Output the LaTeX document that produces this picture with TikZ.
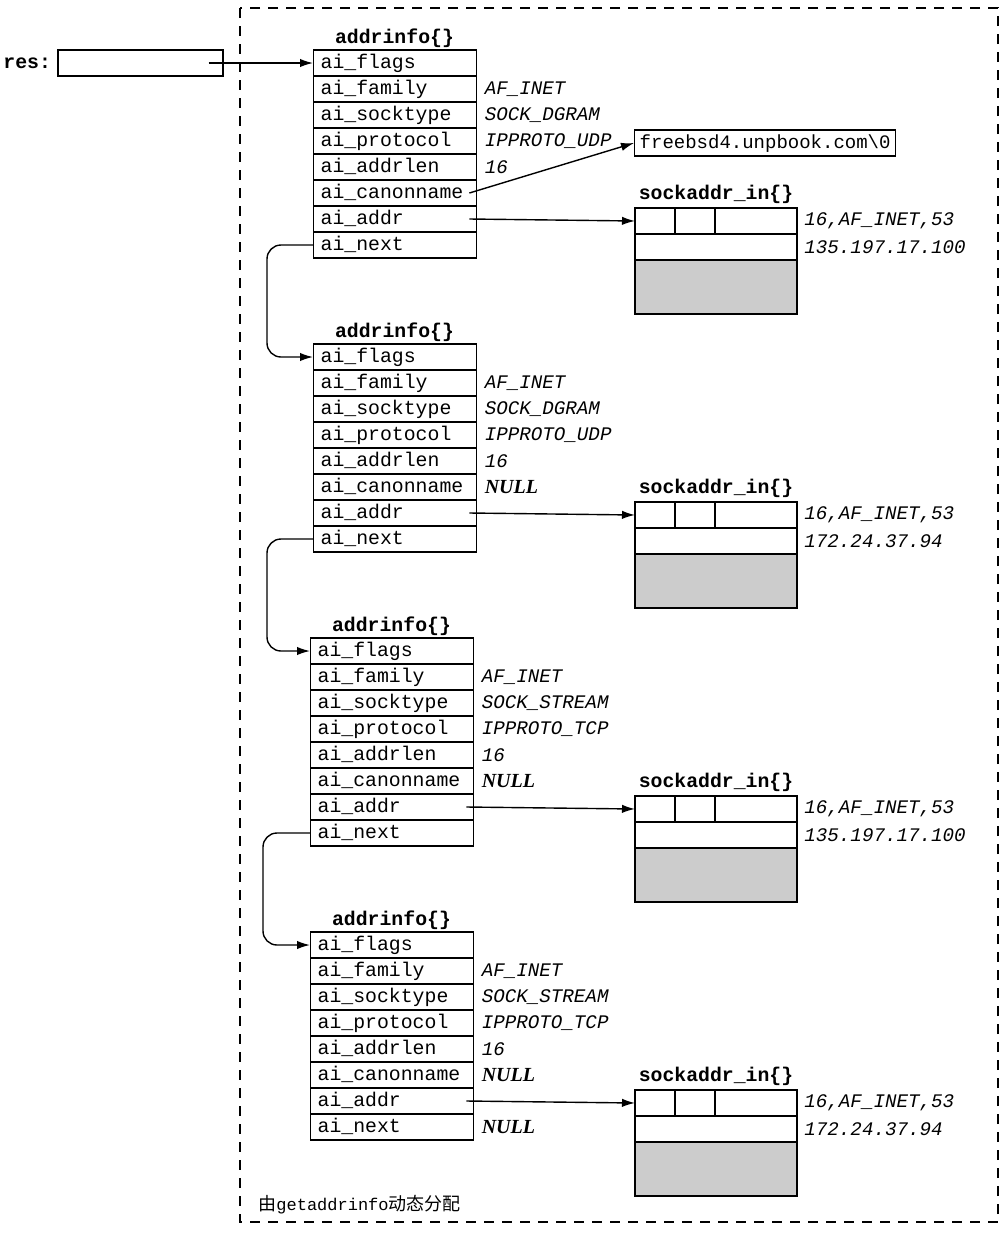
\documentclass[tikz,border=0pt]{standalone}
\usepackage{fontspec}
\setmainfont{Liberation Serif}
\setmonofont{Liberation Mono}
\newfontfamily\cjkfont{Noto Sans CJK SC}
\usetikzlibrary{arrows.meta,calc}
\begin{document}
\begin{tikzpicture}[x=0.5pt,y=-0.5pt,
  every node/.style={font=\ttfamily\fontsize{9.9}{11}\selectfont},
  field/.style={draw, line width=0.7pt, minimum width=81.5pt, minimum height=13pt,
    inner xsep=3.5pt, inner ysep=0pt, text width=74.5pt, align=left,
    text height=7pt, text depth=2pt},
  val/.style={anchor=west, inner xsep=3.5pt, font=\ttfamily\itshape\fontsize{9.6}{11}\selectfont},
  nullval/.style={anchor=west, inner xsep=3.5pt, font=\rmfamily\bfseries\itshape\fontsize{10}{11}\selectfont},
  title/.style={font=\ttfamily\bfseries\fontsize{9.9}{11}\selectfont},
  sacell/.style={draw, line width=0.7pt, outer sep=0pt, minimum width=81pt, minimum height=13pt, inner sep=0pt},
  sagray/.style={draw, line width=0.7pt, outer sep=0pt, fill=black!20, minimum width=81pt, minimum height=27pt, inner sep=0pt},
  ptr/.style={line width=0.7pt, -{Latex[length=6.5pt,width=4.2pt]}},
  alloc/.style={dashed, dash pattern=on 5pt off 4pt, line width=0.55pt},
]
\useasboundingbox (0,0) rectangle (1002,1233);
\fill[white] (0,0) rectangle (1002,1233);

% dynamically allocated region
\draw[alloc] (240,8) rectangle (998,1222);
\node[anchor=west, inner sep=0pt] (cap) at (258,1205)
  {{\cjkfont\fontsize{9}{10}\selectfont 由}{\ttfamily\fontsize{8.5}{10}\selectfont getaddrinfo}{\cjkfont\fontsize{9}{10}\selectfont 动态分配}};

% res pointer
\node[draw, line width=0.7pt, minimum width=82.5pt, minimum height=13pt, inner sep=0pt] (res) at (140.5,63) {};
\node[anchor=east, inner sep=3pt, font=\ttfamily\bfseries\fontsize{9.9}{11}\selectfont] (reslbl) at (res.west) {res:};

% addrinfo structures
\foreach \k/\xl in {1/313,2/313,3/310,4/310} {
  \pgfmathsetmacro{\yb}{63+294*(\k-1)}
  \node[title] (t\k) at (\xl+81.5,\yb-25) {addrinfo\{\}};
  \foreach \f [count=\i] in {ai\_flags,ai\_family,ai\_socktype,ai\_protocol,ai\_addrlen,ai\_canonname,ai\_addr,ai\_next} {
    \node[field, anchor=west] (s\k-\i) at (\xl,\yb+26*\i-26) {\f};
  }
  % sockaddr_in
  \node[sacell, anchor=north west] (a\k-t) at (635,\yb+145) {};
  \node[sacell, anchor=north] (a\k-m) at (a\k-t.south) {};
  \node[sagray, anchor=north] (a\k-g) at (a\k-m.south) {};
  \draw[line width=0.7pt] ([xshift=20pt]a\k-t.north west) -- ([xshift=20pt]a\k-t.south west);
  \draw[line width=0.7pt] ([xshift=40pt]a\k-t.north west) -- ([xshift=40pt]a\k-t.south west);
  \node[title, anchor=south, inner sep=2pt] (at\k) at (a\k-t.north) {sockaddr\_in\{\}};
  \node[val] (af\k) at (a\k-t.east) {16,AF\_INET,53};
  \draw[ptr] ([xshift=-4pt]s\k-7.east) -- (a\k-t.west);
}

% values
\node[val] (v1-2) at (s1-2.east) {AF\_INET};
\node[val] (v1-3) at (s1-3.east) {SOCK\_DGRAM};
\node[val] (v1-4) at (s1-4.east) {IPPROTO\_UDP};
\node[val] (v1-5) at (s1-5.east) {16};

\node[val] (v2-2) at (s2-2.east) {AF\_INET};
\node[val] (v2-3) at (s2-3.east) {SOCK\_DGRAM};
\node[val] (v2-4) at (s2-4.east) {IPPROTO\_UDP};
\node[val] (v2-5) at (s2-5.east) {16};
\node[nullval] (v2-6) at (s2-6.east) {NULL};

\node[val] (v3-2) at (s3-2.east) {AF\_INET};
\node[val] (v3-3) at (s3-3.east) {SOCK\_STREAM};
\node[val] (v3-4) at (s3-4.east) {IPPROTO\_TCP};
\node[val] (v3-5) at (s3-5.east) {16};
\node[nullval] (v3-6) at (s3-6.east) {NULL};

\node[val] (v4-2) at (s4-2.east) {AF\_INET};
\node[val] (v4-3) at (s4-3.east) {SOCK\_STREAM};
\node[val] (v4-4) at (s4-4.east) {IPPROTO\_TCP};
\node[val] (v4-5) at (s4-5.east) {16};
\node[nullval] (v4-6) at (s4-6.east) {NULL};
\node[nullval] (v4-8) at (s4-8.east) {NULL};

% sockaddr addresses
\node[val] (ip1) at (a1-m.east) {135.197.17.100};
\node[val] (ip2) at (a2-m.east) {172.24.37.94};
\node[val] (ip3) at (a3-m.east) {135.197.17.100};
\node[val] (ip4) at (a4-m.east) {172.24.37.94};

% canonical name
\node[draw, line width=0.7pt, anchor=west, inner xsep=2.5pt, inner ysep=0pt, minimum height=13pt,
  text height=7pt, text depth=2pt, font=\ttfamily\fontsize{9.5}{11}\selectfont] (fb) at (634,143)
  {freebsd4.unpbook.com\textbackslash 0};

% pointers
\draw[ptr] ([xshift=-7.5pt]res.east) -- (s1-1.west);
\draw[ptr] ([xshift=-4pt]s1-6.east) -- (fb.west);
\draw[ptr, rounded corners=7pt] (s1-8.west) -- ++(-46,0) |- (s2-1.west);
\draw[ptr, rounded corners=7pt] (s2-8.west) -- ++(-46,0) |- (s3-1.west);
\draw[ptr, rounded corners=7pt] (s3-8.west) -- ++(-47,0) |- (s4-1.west);
\end{tikzpicture}
\end{document}
